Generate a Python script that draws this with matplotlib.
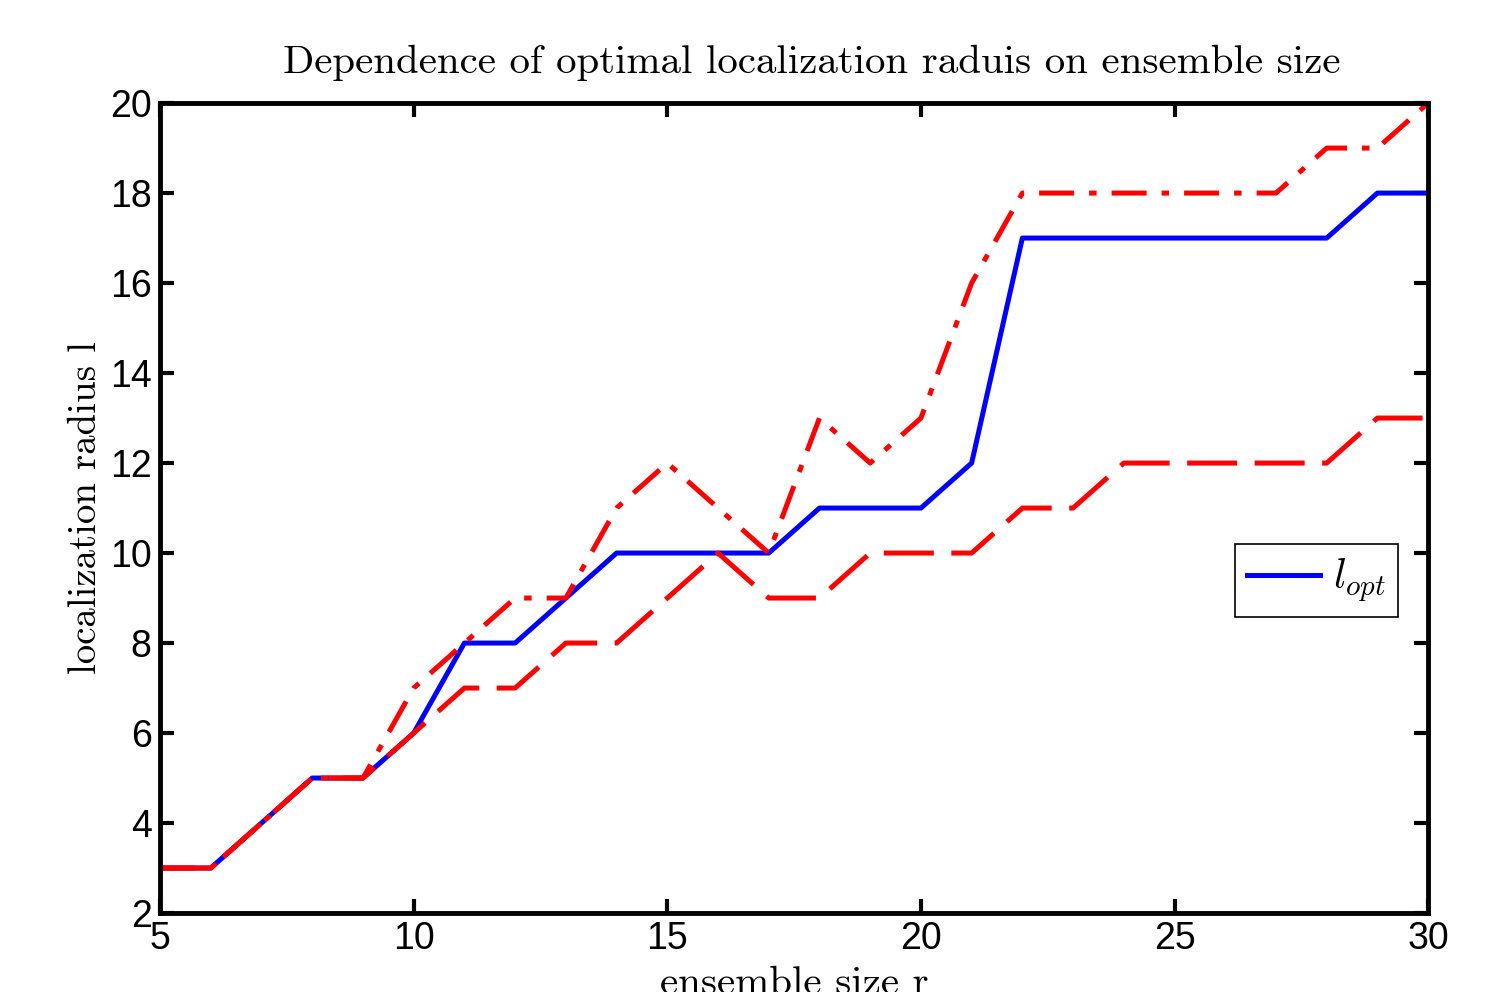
import matplotlib
matplotlib.use("Agg")
import matplotlib.pyplot as plt

ensemble_size = list(range(5, 31))
l_opt = [3, 3, 4, 5, 5, 6, 8, 8, 9, 10, 10, 10, 10, 11, 11, 11, 12, 17, 17, 17, 17, 17, 17, 17, 18, 18]
l_upper = [3, 3, 4, 5, 5, 7, 8, 9, 9, 11, 12, 11, 10, 13, 12, 13, 16, 18, 18, 18, 18, 18, 18, 19, 19, 20]
l_lower = [3, 3, 4, 5, 5, 6, 7, 7, 8, 8, 9, 10, 9, 9, 10, 10, 10, 11, 11, 12, 12, 12, 12, 12, 13, 13]
xticks = [5, 10, 15, 20, 25, 30]
yticks = [2, 4, 6, 8, 10, 12, 14, 16, 18, 20]

plt.rcParams['mathtext.fontset'] = 'cm'
plt.rcParams['axes.unicode_minus'] = False

fig = plt.figure(figsize=(15.03, 9.92), dpi=100)
ax = fig.add_axes([0.1065, 0.0796, 0.8437, 0.8165])

ax.plot(ensemble_size, l_opt, color='#0000ff', lw=3.6, label=r'$l_{opt}$')
ax.plot(ensemble_size, l_upper, color='#ff0000', lw=3.6, dashes=(7, 3, 1.5, 3))
ax.plot(ensemble_size, l_lower, color='#ff0000', lw=3.6, dashes=(10, 3.5))

ax.set_xlim(5, 30)
ax.set_ylim(2, 20)
ax.set_xticks(xticks)
ax.set_yticks(yticks)
ax.tick_params(direction='in', length=10, width=3, top=True, right=True, labelsize=27, pad=6)
for lab in ax.get_xticklabels() + ax.get_yticklabels():
    lab.set_fontfamily('Liberation Sans')
for s in ax.spines.values():
    s.set_linewidth(3.5)

ax.set_title('Dependence of optimal localization raduis on ensemble size', fontfamily='cmr10',
             fontsize=29.5, pad=22, x=0.514)
ax.set_xlabel('ensemble size r', fontfamily='cmr10', fontsize=29.5, labelpad=6)
ax.set_ylabel('localization radius l', fontfamily='cmr10', fontsize=28, labelpad=4)

leg = ax.legend(loc='center', bbox_to_anchor=(0.912, 0.411), fancybox=False, framealpha=1,
                edgecolor='black', fontsize=30, handlelength=1.75, borderpad=0.3,
                handletextpad=0.3, borderaxespad=0)
leg.get_frame().set_linewidth(1.2)

fig.savefig('out.png', dpi=100)
